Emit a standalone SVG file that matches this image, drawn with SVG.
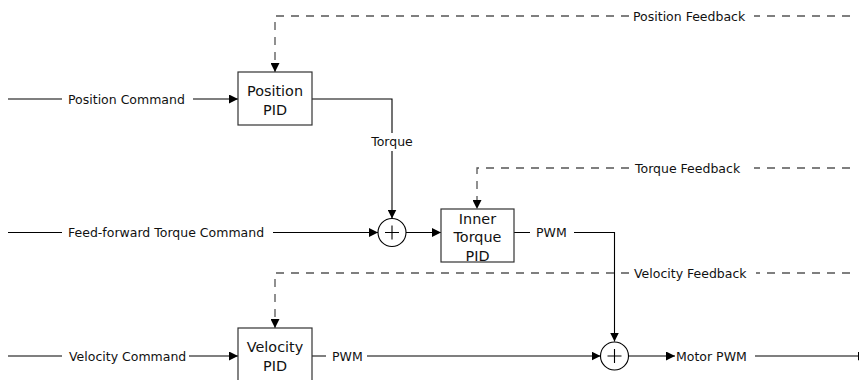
<svg xmlns="http://www.w3.org/2000/svg" width="859" height="380" viewBox="0 0 859 380">
<defs>
<marker id="arr" viewBox="0 0 10 10" refX="10" refY="5" markerWidth="9" markerHeight="9" markerUnits="userSpaceOnUse" orient="auto">
<path d="M0,0 L10,5 L0,10 z" fill="#000"/>
</marker>
<style>
.lbl{font-family:"DejaVu Sans",sans-serif;font-size:12.5px;fill:#111}
.box{fill:#fff;stroke:#333;stroke-width:1.2}
.btx{font-family:"DejaVu Sans",sans-serif;font-size:14.4px;fill:#111;text-anchor:middle}
.sol{fill:none;stroke:#000;stroke-width:1.1}
.dsh{fill:none;stroke:#555;stroke-width:1.3;stroke-dasharray:8,7}
.sum{fill:#fff;stroke:#000;stroke-width:1.1}
</style>
</defs>
<rect width="859" height="380" fill="#fff"/>
<g id="connectors">
<path class="sol" d="M8,99 H62 M193,99 H238" marker-end="url(#arr)"/>
<path class="sol" d="M312,99 H392 V133 M392,151 V218.5" marker-end="url(#arr)"/>
<path class="sol" d="M8,232.5 H62 M273,232.5 H378" marker-end="url(#arr)"/>
<path class="sol" d="M406,232.5 H441" marker-end="url(#arr)"/>
<path class="sol" d="M514,232.5 H530 M574,232.5 H614.5 V341.5" marker-end="url(#arr)"/>
<path class="sol" d="M8,356 H62 M189,356 H238" marker-end="url(#arr)"/>
<path class="sol" d="M312,356 H326 M367,356 H600.5" marker-end="url(#arr)"/>
<path class="sol" d="M628.5,356 H675" marker-end="url(#arr)"/>
<path class="sol" d="M755,356 H867" marker-end="url(#arr)"/>
<path class="dsh" d="M850,16 H754 M629,16 H275 V72" marker-end="url(#arr)"/>
<path class="dsh" d="M850,168 H754 M629,168 H477 V209" marker-end="url(#arr)"/>
<path class="dsh" d="M850,273 H756 M629,273 H275 V328" marker-end="url(#arr)"/>
<text class="lbl" x="68" y="103.5">Position Command</text>
<text class="lbl" x="392" y="145.5" text-anchor="middle">Torque</text>
<text class="lbl" x="68" y="237">Feed-forward Torque Command</text>
<text class="lbl" x="536" y="237">PWM</text>
<text class="lbl" x="69" y="360.5">Velocity Command</text>
<text class="lbl" x="332" y="360.5">PWM</text>
<text class="lbl" x="676" y="360.5">Motor PWM</text>
<text class="lbl" x="633" y="20.5">Position Feedback</text>
<text class="lbl" x="635" y="172.5">Torque Feedback</text>
<text class="lbl" x="634" y="277.5">Velocity Feedback</text>
</g>
<g id="position-pid">
<rect class="box" x="238" y="72" width="74" height="53"/>
<text class="btx" x="275" y="95.5">Position</text>
<text class="btx" x="275" y="114.5">PID</text>
</g>
<g id="inner-torque-pid">
<rect class="box" x="441" y="209" width="73" height="53"/>
<text class="btx" x="477.5" y="223.5">Inner</text>
<text class="btx" x="477.5" y="242">Torque</text>
<text class="btx" x="477.5" y="260.5">PID</text>
</g>
<g id="velocity-pid">
<rect class="box" x="238" y="328" width="74" height="53"/>
<text class="btx" x="275" y="351.5">Velocity</text>
<text class="btx" x="275" y="370.5">PID</text>
</g>
<g id="sum-torque">
<circle class="sum" cx="392" cy="232.5" r="14"/>
<path class="sol" d="M385,232.5 H399 M392,225.5 V239.5" stroke="#333" stroke-width="0.9"/>
</g>
<g id="sum-motor">
<circle class="sum" cx="614.5" cy="356" r="14"/>
<path class="sol" d="M607.5,356 H621.5 M614.5,349 V363" stroke="#333" stroke-width="0.9"/>
</g>
</svg>
